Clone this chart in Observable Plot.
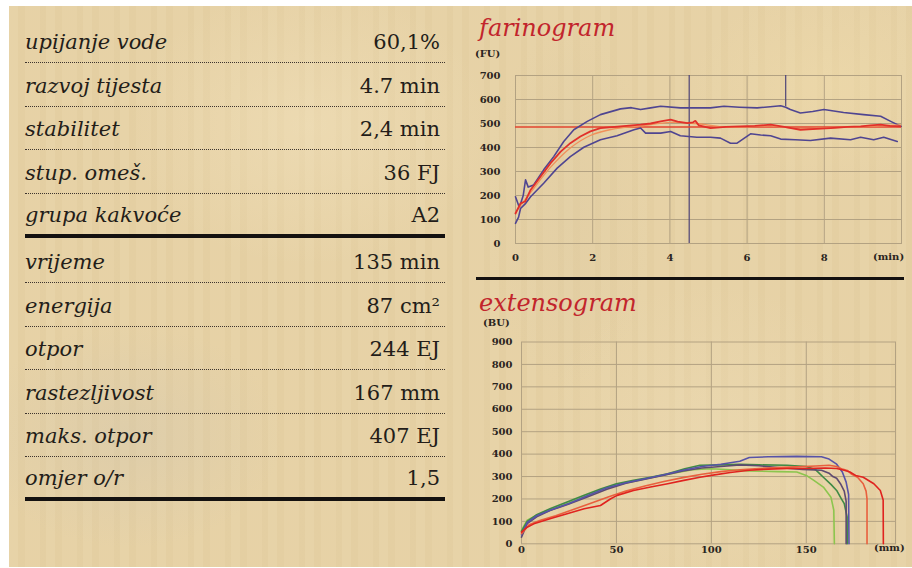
<!DOCTYPE html>
<html>
<head>
<meta charset="utf-8">
<script src="https://cdn.jsdelivr.net/npm/d3@7"></script>
<script src="https://cdn.jsdelivr.net/npm/@observablehq/plot@0.6"></script>
<style>
  html, body { margin: 0; padding: 0; background: #fff; width: 912px; height: 568px; overflow: hidden; }
  #paper {
    position: absolute; left: 9px; top: 6px; width: 903px; height: 561px;
    background-color: #e6d1a4;
    background-image:
      radial-gradient(ellipse 220px 160px at 120px 430px, rgba(205,195,175,0.35), transparent 70%),
      radial-gradient(ellipse 260px 200px at 300px 120px, rgba(245,230,195,0.40), transparent 70%),
      radial-gradient(ellipse 240px 220px at 700px 430px, rgba(240,224,188,0.35), transparent 70%),
      radial-gradient(ellipse 200px 140px at 820px 80px, rgba(242,222,172,0.40), transparent 70%),
      radial-gradient(ellipse 120px 260px at 560px 200px, rgba(215,198,160,0.25), transparent 70%),
      repeating-linear-gradient(90deg, rgba(255,250,235,0.05) 0 9px, rgba(150,120,80,0.025) 9px 16px, rgba(255,250,235,0.03) 16px 31px, rgba(120,100,70,0.02) 31px 37px);
  }
  .abs { position: absolute; }
  .ttl { font-family: "DejaVu Serif", serif; font-style: italic; font-size: 24px; color: #c2252c; line-height: 24px; white-space: nowrap; }
  .unit { font-family: "DejaVu Serif", serif; font-weight: bold; font-size: 10px; color: #2a2420; line-height: 10px; white-space: nowrap; }
  .row { position: absolute; left: 25px; width: 420px; height: 40px; display: flex; justify-content: space-between; align-items: center;
         font-family: "DejaVu Serif", serif; font-size: 21px; color: #231d19; border-bottom: 1px dotted #3e352e; }
  .row .lab { font-style: italic; }
  .row .val { padding-right: 5px; }
  .row.last { border-bottom: 4px solid #141110; height: 37px; }
</style>
</head>
<body>
<div id="paper"></div>
<div id="table"></div>
<div class="abs ttl" style="left:479px; top:16px;">farinogram</div>
<div class="abs unit" style="left:475px; top:49px;">(FU)</div>
<div class="abs unit" style="left:873px; top:252px;">(min)</div>
<div class="abs" style="left:476px; top:277px; width:428px; height:3px; background:#141110;"></div>
<div class="abs ttl" style="left:479px; top:291px;">extensogram</div>
<div class="abs unit" style="left:483px; top:318px;">(BU)</div>
<div class="abs unit" style="left:874px; top:543px;">(mm)</div>
<div id="far" class="abs" style="left:470px; top:56px;"></div>
<div id="ext" class="abs" style="left:470px; top:322px;"></div>
<script>
// ---------- table data ----------
const farLabels = ["upijanje vode", "razvoj tijesta", "stabilitet", "stup. omeš.", "grupa kakvoće"];
const farValues = ["60,1%", "4.7 min", "2,4 min", "36 FJ", "A2"];
const extLabels = ["vrijeme", "energija", "otpor", "rastezljivost", "maks. otpor", "omjer o/r"];
const extValues = ["135 min", "87 cm²", "244 EJ", "167 mm", "407 EJ", "1,5"];

// ---------- farinogram data (time in min, FU) ----------
const farXTicks = [0, 2, 4, 6, 8];
const farYTicks = [0, 100, 200, 300, 400, 500, 600, 700];
const farTarget = 485;
const farMarkers = [{t: 4.5, from: 0, to: 700}, {t: 7, from: 570, to: 700}];
const farUpper = [[0,195],[0.1,150],[0.2,200],[0.26,265],[0.33,235],[0.47,244],[0.73,307],[0.99,362],[1.25,425],[1.51,474],[1.86,509],[2.2,537],[2.72,561],[3.0,566],[3.24,558],[3.5,565],[3.76,572],[4.27,565],[4.53,565],[5.05,565],[5.4,572],[5.8,568],[6.26,565],[6.6,570],[6.87,574],[7.0,568],[7.12,558],[7.38,544],[7.7,550],[7.99,558],[8.5,546],[9.02,537],[9.46,530],[9.72,509],[9.99,488]];
const farMean = [[0,125],[0.13,167],[0.25,175],[0.39,223],[0.65,279],[0.91,335],[1.17,383],[1.42,418],[1.68,446],[1.94,467],[2.2,481],[2.72,488],[3.24,495],[3.5,500],[3.76,509],[4.02,516],[4.2,508],[4.45,502],[4.6,505],[4.66,511],[4.75,492],[5.05,481],[5.45,486],[5.83,488],[6.2,490],[6.61,495],[7.0,485],[7.38,474],[7.8,478],[8.16,481],[8.6,486],[8.94,488],[9.2,492],[9.46,495],[9.7,490],[9.97,488]];
const farTrace = [[0,130],[0.39,212],[0.91,318],[1.42,398],[1.94,450],[2.5,476],[3.24,490],[4.02,505],[4.66,500],[5.5,484],[6.61,490],[7.38,478],[8.5,484],[9.97,494]];
const farLower = [[0,84],[0.08,110],[0.13,146],[0.25,165],[0.39,195],[0.73,251],[1.08,314],[1.42,362],[1.77,401],[2.2,432],[2.63,449],[3.07,474],[3.24,481],[3.37,460],[3.76,460],[4.02,467],[4.27,449],[4.7,443],[5.05,443],[5.31,439],[5.57,418],[5.74,418],[6.09,457],[6.35,452],[6.61,449],[6.87,435],[7.25,432],[7.64,429],[8.16,439],[8.68,432],[8.94,443],[9.28,432],[9.54,443],[9.89,425]];

// ---------- extensogram data (mm, BU) ----------
const extXTicks = [0, 50, 100, 150];
const extYTicks = [0, 100, 200, 300, 400, 500, 600, 700, 800, 900];
const extBlue = [[0,40],[3,95],[8,125],[15,150],[25,180],[35,215],[45,250],[55,272],[65,290],[75,308],[85,328],[95,345],[105,355],[115,368],[120,385],[130,388],[145,390],[158,388],[162,378],[166,355],[169,320],[171,275],[172.3,220],[172.5,0]];
const extPurple = [[0,30],[3,90],[8,120],[15,148],[25,178],[35,210],[45,243],[55,270],[65,288],[75,306],[85,325],[95,338],[105,345],[115,352],[125,348],[135,340],[148,332],[158,328],[162,315],[164,300],[166,292],[168,268],[170,235],[171,190],[171,0]];
const extGreen = [[0,55],[3,100],[8,130],[15,156],[24,186],[33,216],[42,246],[50,268],[59,283],[68,297],[77,312],[86,335],[94,350],[105,352],[115,355],[125,352],[140,350],[150,345],[155,330],[159,297],[163,265],[166,238],[168.5,200],[170,179],[171.5,120],[171.6,0]];
const extLightGreen = [[0,60],[3,105],[8,128],[15,150],[24,180],[33,210],[42,240],[50,262],[60,280],[70,298],[80,315],[90,330],[100,335],[110,330],[120,325],[135,322],[145,320],[150,305],[154,283],[159,253],[163,208],[164.5,150],[164.8,0]];
const extRed = [[0,52],[3,74],[6.5,89],[15,112],[24,134],[33,156],[41.6,171],[47,201],[50.4,216],[59,238],[68,253],[77,268],[85.5,283],[94,297],[100,305],[110,318],[120,328],[130,333],[140,336],[150,336],[160,338],[166,336],[170,328],[173,320],[176,305],[180,297],[185.6,268],[189,238],[190.5,195],[190.6,0]];
const extOrange = [[0,45],[4,85],[10,105],[18,125],[28,155],[38,185],[46,210],[55,235],[65,258],[75,278],[85,295],[95,310],[105,322],[115,330],[125,336],[135,340],[145,343],[155,347],[162,350],[166,345],[169,333],[171.6,327],[174,310],[177,297],[180,268],[181.5,235],[182,200],[182,0]];

// ---------- table ----------
const table = document.getElementById("table");
function addRows(labels, values, firstCenter, pitch) {
  labels.forEach((lab, i) => {
    const c = firstCenter + pitch * i;
    const row = document.createElement("div");
    row.className = "row" + (i === labels.length - 1 ? " last" : "");
    row.style.top = (c - 22) + "px";
    const a = document.createElement("span"); a.className = "lab"; a.textContent = lab;
    const b = document.createElement("span"); b.className = "val"; b.textContent = values[i];
    row.append(a, b);
    table.appendChild(row);
  });
}
addRows(farLabels, farValues, 44, 43.7);
addRows(extLabels, extValues, 264, 43.5);

// ---------- charts ----------
const gridColor = "#b3a282";
const axisStyle = {background: "transparent", fontFamily: "DejaVu Serif", fontSize: "10px", fontWeight: "bold", color: "#2a2420", overflow: "visible"};
const px = d => d[0], py = d => d[1];

const far = Plot.plot({
  width: 442, height: 214,
  marginLeft: 45, marginRight: 11, marginTop: 19, marginBottom: 27,
  style: axisStyle,
  x: {domain: [0, 10], ticks: farXTicks, tickSize: 0, tickPadding: 10, label: null},
  y: {domain: [0, 700], ticks: farYTicks, tickSize: 0, tickPadding: 15, label: null},
  marks: [
    Plot.ruleX(farXTicks.slice(1), {stroke: gridColor, strokeWidth: 1}),
    Plot.ruleY(farYTicks.slice(1), {stroke: gridColor, strokeWidth: 1}),
    Plot.frame({stroke: gridColor}),
    Plot.ruleX(farMarkers, {x: "t", y1: "from", y2: "to", stroke: "#4d4478", strokeWidth: 1.2}),
    Plot.ruleY([farTarget], {stroke: "#e2452f", strokeWidth: 1.5}),
    Plot.line(farLower, {x: px, y: py, stroke: "#4f4591", strokeWidth: 1.6}),
    Plot.line(farUpper, {x: px, y: py, stroke: "#4f4591", strokeWidth: 1.6}),
    Plot.line(farTrace, {x: px, y: py, stroke: "#f0905a", strokeWidth: 1.3, curve: "catmull-rom"}),
    Plot.line(farMean, {x: px, y: py, stroke: "#e1302a", strokeWidth: 1.8})
  ]
});
document.getElementById("far").appendChild(far);

const ext = Plot.plot({
  width: 442, height: 240,
  marginLeft: 51, marginRight: 17, marginTop: 19.5, marginBottom: 18.7,
  style: axisStyle,
  x: {domain: [0, 197], ticks: extXTicks, tickSize: 0, tickPadding: 2, label: null},
  y: {domain: [0, 900], ticks: extYTicks, tickSize: 0, tickPadding: 9, label: null},
  marks: [
    Plot.ruleX(extXTicks.slice(1), {stroke: gridColor, strokeWidth: 1}),
    Plot.ruleY(extYTicks.slice(1, -1), {stroke: gridColor, strokeWidth: 1}),
    Plot.frame({stroke: gridColor}),
    Plot.line(extLightGreen, {x: px, y: py, stroke: "#8cc54e", strokeWidth: 1.6}),
    Plot.line(extGreen, {x: px, y: py, stroke: "#3f8a45", strokeWidth: 1.6}),
    Plot.line(extPurple, {x: px, y: py, stroke: "#5e4a70", strokeWidth: 1.6}),
    Plot.line(extBlue, {x: px, y: py, stroke: "#5753a8", strokeWidth: 1.6}),
    Plot.line(extOrange, {x: px, y: py, stroke: "#e8603e", strokeWidth: 1.6}),
    Plot.line(extRed, {x: px, y: py, stroke: "#e0231f", strokeWidth: 1.6})
  ]
});
document.getElementById("ext").appendChild(ext);
</script>
</body>
</html>
